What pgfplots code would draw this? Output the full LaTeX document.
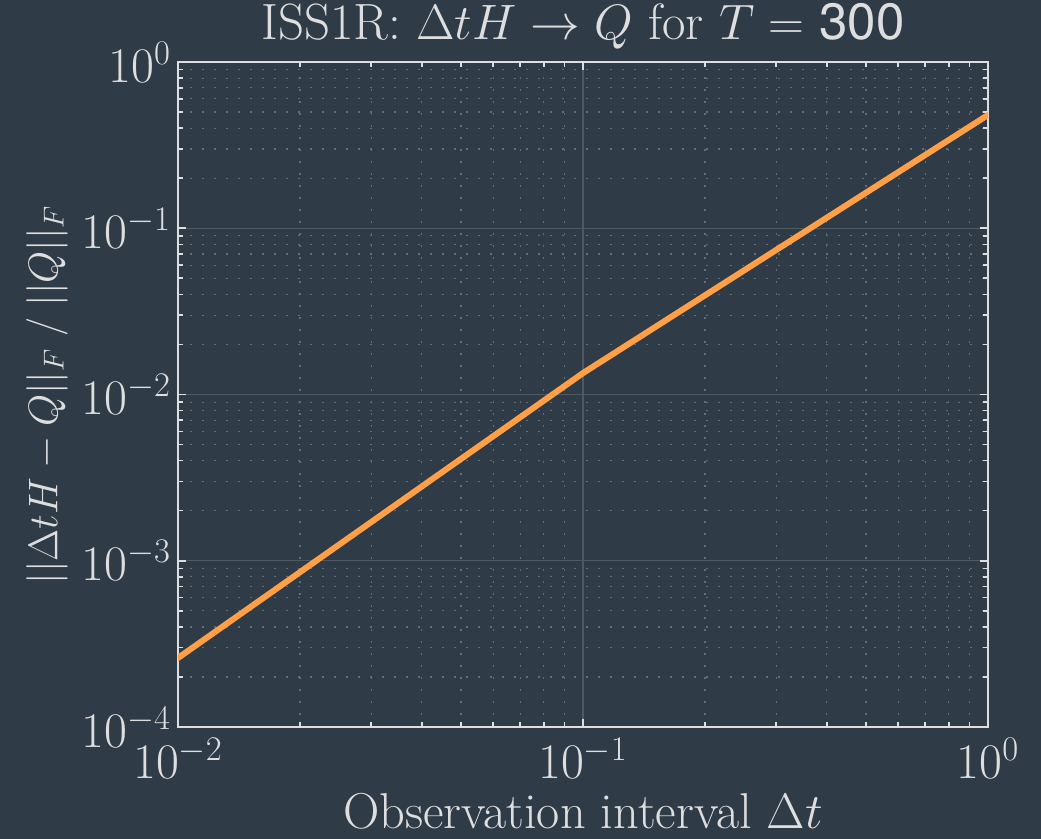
\documentclass[border=0pt]{standalone}
\usepackage{pgfplots}
\pgfplotsset{compat=1.18}
\usepackage{fontspec}
\newfontfamily\heros{TeX Gyre Heros}
\definecolor{bg}{RGB}{47,59,71}
\definecolor{fg}{RGB}{222,222,222}
\definecolor{orng}{RGB}{255,160,72}
\definecolor{majgrid}{RGB}{78,89,100}
\definecolor{mingrid}{RGB}{98,109,120}
\begin{document}
\begin{tikzpicture}
\fill[bg] (-89pt,-56pt) rectangle (431.5pt,363.5pt);
\useasboundingbox (-89pt,-56pt) rectangle (431.5pt,363.5pt);
\begin{axis}[
  at={(0,0)}, anchor=south west,
  scale only axis, width=405pt, height=332.5pt,
  xmode=log, ymode=log,
  xmin=0.01, xmax=1, ymin=1e-4, ymax=1,
  axis line style={fg, line width=1pt},
  every tick/.style={fg, line width=0.8pt},
  major tick length=4pt, minor tick length=2.5pt,
  tick align=inside,
  xtick={0.01,0.1,1}, ytick={1e-4,1e-3,1e-2,1e-1,1},
  grid=both,
  major grid style={majgrid, line width=0.7pt},
  minor grid style={mingrid, line width=0.6pt, dash pattern=on 1.2pt off 4.8pt},
  tick label style={fg, font=\fontsize{23}{27}\selectfont},
  xticklabel style={yshift=-2pt},
  title={ISS1R: $\Delta t H \rightarrow Q$ for $T =$ {\heros 300}},
  title style={fg, font=\fontsize{25.5}{30}\selectfont, at={(0.5,1)}, anchor=base, yshift=5pt},
  xlabel={Observation interval $\Delta t$},
  ylabel={$||\Delta t H - Q||_F\;/\;||Q||_F$},
  label style={fg, font=\fontsize{22}{26}\selectfont},
  xlabel style={font=\fontsize{25.2}{30}\selectfont, at={(0.5,0)}, anchor=base, yshift=-51pt},
  ylabel style={yshift=0pt},
]
\addplot[orng, line width=3pt, line cap=round] coordinates {
  (0.01, 2.6e-4) (0.1, 0.01345) (1, 0.48)
};
\end{axis}
\end{tikzpicture}
\end{document}
